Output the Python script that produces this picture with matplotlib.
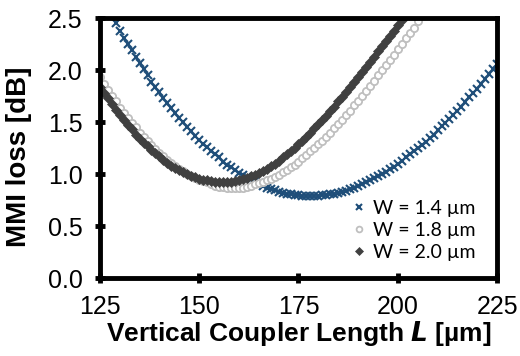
import matplotlib
matplotlib.use("Agg")
import matplotlib.pyplot as plt

# MMI loss vs vertical coupler length (1 um steps)
L_w14 = list(range(129, 226))
loss_w14 = [2.45, 2.38, 2.31, 2.25, 2.19, 2.13, 2.07, 2.01, 1.95, 1.89,
            1.84, 1.79, 1.73, 1.68, 1.64, 1.59, 1.54, 1.50, 1.45, 1.41,
            1.37, 1.33, 1.29, 1.26, 1.22, 1.19, 1.16, 1.12, 1.09, 1.07,
            1.04, 1.01, 0.99, 0.97, 0.95, 0.93, 0.91, 0.89, 0.87, 0.86,
            0.85, 0.83, 0.82, 0.81, 0.81, 0.80, 0.80, 0.79, 0.79, 0.79,
            0.79, 0.79, 0.80, 0.80, 0.81, 0.81, 0.82, 0.83, 0.84, 0.86,
            0.87, 0.89, 0.90, 0.92, 0.94, 0.96, 0.98, 1.00, 1.02, 1.05,
            1.07, 1.10, 1.13, 1.16, 1.19, 1.22, 1.25, 1.28, 1.31, 1.35,
            1.38, 1.42, 1.46, 1.49, 1.53, 1.57, 1.61, 1.65, 1.69, 1.74,
            1.78, 1.82, 1.87, 1.91, 1.96, 2.01, 2.06]

L_w18 = list(range(125, 206))
loss_w18 = [1.93, 1.87, 1.81, 1.75, 1.70, 1.64, 1.59, 1.54, 1.49, 1.45,
            1.40, 1.36, 1.32, 1.28, 1.24, 1.20, 1.17, 1.14, 1.11, 1.08,
            1.05, 1.03, 1.00, 0.98, 0.96, 0.94, 0.93, 0.92, 0.90, 0.89,
            0.88, 0.88, 0.87, 0.87, 0.87,
            0.87, 0.87, 0.88, 0.89, 0.90, 0.91, 0.92, 0.94, 0.95, 0.97,
            0.99, 1.02, 1.04, 1.07, 1.09, 1.12, 1.15, 1.18, 1.22, 1.25,
            1.29, 1.32, 1.36, 1.40, 1.44, 1.48, 1.52, 1.57, 1.61, 1.66,
            1.70, 1.75, 1.80, 1.85, 1.90, 1.95, 2.00, 2.05, 2.10, 2.15,
            2.20, 2.25, 2.31, 2.36, 2.41, 2.47]

L_w20 = list(range(125, 202))
loss_w20 = [1.84, 1.78, 1.73, 1.67, 1.62, 1.57, 1.52, 1.47, 1.43, 1.38,
            1.34, 1.30, 1.27, 1.23, 1.20, 1.17, 1.14, 1.11, 1.08, 1.06,
            1.04, 1.02, 1.00, 0.98, 0.97, 0.95, 0.94, 0.94, 0.93, 0.92,
            0.92, 0.92,
            0.92, 0.92, 0.93, 0.94, 0.95, 0.96, 0.98, 0.99, 1.01, 1.03,
            1.05, 1.08, 1.10, 1.13, 1.16, 1.19, 1.22, 1.25, 1.29, 1.32,
            1.36, 1.40, 1.44, 1.48, 1.52, 1.56, 1.61, 1.65, 1.70, 1.74,
            1.79, 1.84, 1.89, 1.93, 1.98, 2.03, 2.08, 2.13, 2.18, 2.23,
            2.28, 2.33, 2.38, 2.43, 2.48]

x_ticks = [125, 150, 175, 200, 225]
y_ticks = [0.0, 0.5, 1.0, 1.5, 2.0, 2.5]

plt.rcParams['font.family'] = ['Liberation Sans', 'DejaVu Sans']

fig = plt.figure(figsize=(5.2, 3.56), dpi=100)
ax = fig.add_axes([0.192, 0.219, 0.764, 0.730])

ax.plot(L_w14, loss_w14, linestyle='none', marker='x', ms=5.5, mew=1.5,
        color='#1F4E79', label='W = 1.4 µm')
ax.plot(L_w18, loss_w18, linestyle='none', marker='o', ms=5.2, mew=1.3,
        mfc='white', mec='#BFBFBF', label='W = 1.8 µm')
ax.plot(L_w20, loss_w20, linestyle='none', marker='D', ms=4.6, mew=0.5,
        color='#404040', label='W = 2.0 µm')

ax.set_xlim(125, 225)
ax.set_ylim(0, 2.5)
ax.set_xticks(x_ticks)
ax.set_yticks(y_ticks)
ax.set_yticklabels(['%.1f' % v for v in y_ticks])

for s in ax.spines.values():
    s.set_linewidth(3.5)
ax.tick_params(direction='inout', length=7, width=3.5, labelsize=18, pad=9)

ax.set_xlabel('Vertical Coupler Length $\\bfit{L}$ [µm]', fontsize=19,
              fontweight='bold', labelpad=0)
ax.set_ylabel('MMI loss [dB]', fontsize=20, fontweight='bold')
ax.yaxis.set_label_coords(-0.172, 0.465)

ax.legend(loc='lower right', bbox_to_anchor=(0.965, 0.035), frameon=False,
          prop={'family': 'Lato', 'size': 14}, handlelength=0.6,
          handletextpad=0.4, labelspacing=0.27, borderaxespad=0,
          markerscale=0.8)

fig.savefig('out.png', dpi=100)
